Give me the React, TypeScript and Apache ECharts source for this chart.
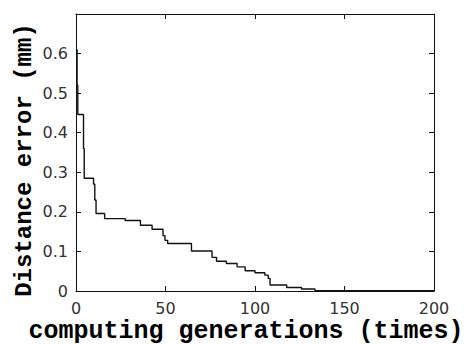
import React, { useEffect, useRef } from "react";
import * as echarts from "echarts";

const generations: number[] = [0, 0.6, 1, 4.2, 4.6, 9.8, 10.5, 11.2, 16, 27.5, 36, 42.5, 48.6, 49.7, 51.2, 64.5, 76, 78.5, 84, 90, 94.5, 100, 105.5, 107.4, 108.4, 117.7, 126, 133.5, 200];
const errors: number[] = [0.61, 0.52, 0.446, 0.36, 0.285, 0.27, 0.23, 0.196, 0.183, 0.178, 0.166, 0.156, 0.14, 0.128, 0.12, 0.101, 0.085, 0.075, 0.0695, 0.061, 0.051, 0.046, 0.04, 0.032, 0.015, 0.009, 0.005, 0.001, 0.001];
const xTicks = { min: 0, max: 200, interval: 50 };
const yTicks = { min: 0, max: 0.7, interval: 0.1 };
const xTitle = "computing generations (times)";
const yTitle = "Distance error (mm)";

export default function App() {
  const ref = useRef<HTMLDivElement>(null);
  useEffect(() => {
    if (!ref.current) return;
    const chart = echarts.init(ref.current, null, { renderer: "svg" });
    const data = generations.map((g, i) => [g, errors[i]]);
    const axisLine = { show: true, onZero: false, lineStyle: { color: "#111", width: 1 } };
    const tickStyle = { show: true, inside: true, length: 5, lineStyle: { color: "#111", width: 1 } };
    const labelStyle = { color: "#333", fontFamily: "DejaVu Sans", fontSize: 16 };
    const titleStyle = {
      fontFamily: "Liberation Mono",
      fontWeight: "bold",
      fill: "#000",
      align: "center",
      verticalAlign: "middle",
    };
    chart.setOption({
      animation: false,
      backgroundColor: "#fff",
      grid: { left: 76, right: 30, top: 14, bottom: 53, containLabel: false },
      xAxis: [
        {
          type: "value", ...xTicks, position: "bottom",
          axisLine, axisTick: tickStyle, splitLine: { show: false },
          axisLabel: { ...labelStyle, margin: 9 },
        },
        {
          type: "value", ...xTicks, position: "top",
          axisLine, axisTick: tickStyle, splitLine: { show: false },
          axisLabel: { show: false },
        },
      ],
      yAxis: [
        {
          type: "value", ...yTicks, position: "left",
          axisLine, axisTick: tickStyle, splitLine: { show: false },
          axisLabel: {
            ...labelStyle, margin: 8,
            formatter: (v: number) => (v > 0.65 ? "" : String(Math.round(v * 10) / 10)),
          },
        },
        {
          type: "value", ...yTicks, position: "right",
          axisLine, axisTick: tickStyle, splitLine: { show: false },
          axisLabel: { show: false },
        },
      ],
      series: [
        {
          type: "line",
          step: "end",
          data,
          symbol: "none",
          lineStyle: { color: "#111", width: 1.4 },
          xAxisIndex: 0,
          yAxisIndex: 0,
        },
      ],
      graphic: [
        {
          type: "text",
          x: 246,
          y: 331,
          style: { text: xTitle, fontSize: 25, ...titleStyle },
        },
        {
          type: "text",
          x: 24,
          y: 160,
          rotation: Math.PI / 2,
          style: { text: yTitle, fontSize: 24, ...titleStyle },
        },
      ],
    });
    return () => chart.dispose();
  }, []);
  return (
    <div
      ref={ref}
      style={{ position: "absolute", left: 0, top: 0, width: 464, height: 344 }}
    />
  );
}
